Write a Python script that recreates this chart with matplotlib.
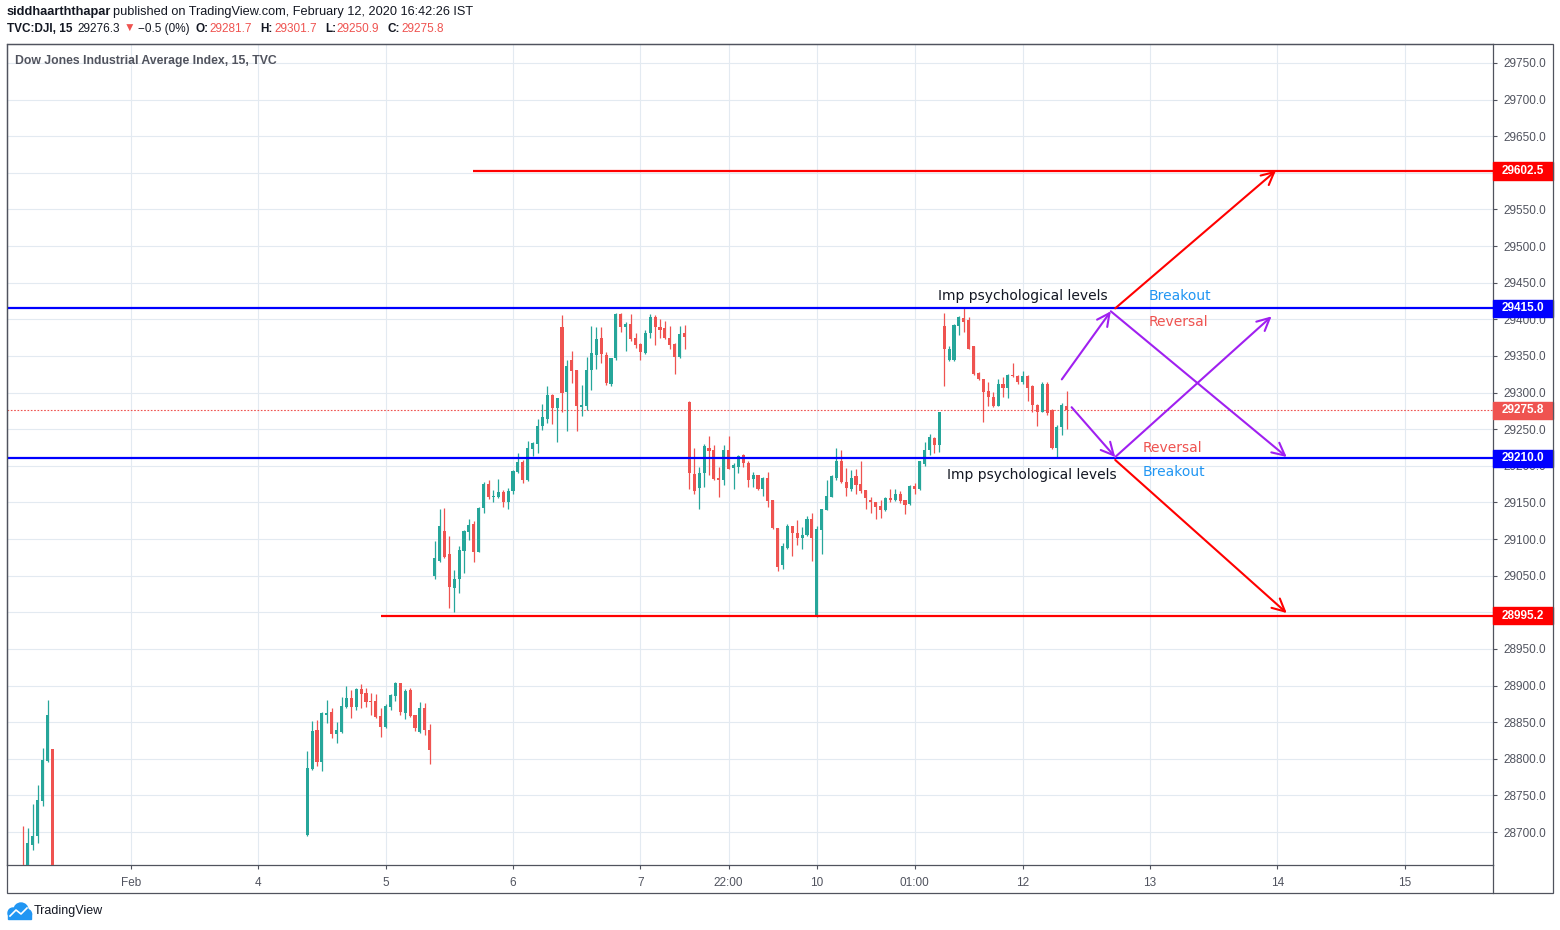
import numpy as np
import matplotlib.pyplot as plt
import matplotlib.transforms as mtransforms
from matplotlib.patches import Rectangle, Circle
from matplotlib.lines import Line2D

plt.rcParams['font.family'] = ['Liberation Sans', 'DejaVu Sans']

# ---- data: DJI 15 min bars (slot = bar index on the time axis) ----
block_start = [0, 58]
block_len = [7, 156]

opens = [
    # Jan 30 close / Jan 31 open
    28650, 28640, 28682, 28694, 28743, 28797, 28813,
    # Feb 4
    28696, 28786, 28839, 28796, 28860, 28864, 28834, 28837, 28871, 28883, 28871, 28895, 28890,
    28879, 28879, 28858, 28843, 28871, 28886, 28903, 28863, 28894, 28860, 28836, 28870, 28839,
    # Feb 5
    29049, 29070, 29111, 29080, 29033, 29046, 29084, 29110, 29121, 29083, 29143, 29175, 29158,
    29157, 29164, 29151, 29166, 29191, 29205, 29181, 29223, 29230, 29254, 29264, 29297, 29279,
    # Feb 6
    29389, 29301, 29345, 29331, 29280, 29282, 29331, 29351, 29374, 29351, 29312, 29347, 29407,
    29389, 29394, 29374, 29366, 29354, 29382, 29403, 29389, 29388, 29374, 29366, 29348, 29382,
    # Feb 7
    29287, 29189, 29170, 29190, 29225, 29222, 29183, 29181, 29222, 29197, 29199, 29215, 29204,
    29182, 29187, 29168, 29184, 29153, 29115, 29064, 29088, 29118, 29108, 29102, 29105, 29128,
    # Feb 10
    28995, 29112, 29140, 29158, 29184, 29207, 29178, 29168, 29186, 29175, 29167, 29154, 29150,
    29145, 29139, 29156, 29153, 29161, 29153, 29148, 29172, 29168, 29202, 29222, 29238, 29228,
    # Feb 11
    29391, 29344, 29344, 29391, 29402, 29399, 29363, 29327, 29318, 29302, 29294, 29282, 29312,
    29306, 29324, 29323, 29314, 29323, 29309, 29283, 29274, 29312, 29276, 29224, 29253, 29281.7,
]
highs = [
    28708, 28705, 28738, 28764, 28815, 28880, 28813,
    28811, 28851, 28853, 28864, 28880, 28870, 28850, 28885, 28900, 28894, 28897, 28902, 28896,
    28890, 28888, 28869, 28875, 28888, 28905, 28904, 28895, 28896, 28860, 28877, 28876, 28848,
    29097, 29141, 29142, 29104, 29058, 29091, 29113, 29127, 29124, 29144, 29178, 29181, 29167,
    29182, 29167, 29170, 29194, 29217, 29208, 29234, 29232, 29264, 29285, 29309, 29298, 29293,
    29406, 29345, 29357, 29331, 29310, 29349, 29391, 29389, 29389, 29356, 29347, 29408, 29408,
    29397, 29407, 29381, 29368, 29385, 29407, 29406, 29401, 29398, 29391, 29367, 29391, 29392,
    29288, 29225, 29198, 29230, 29241, 29229, 29198, 29228, 29241, 29204, 29215, 29216, 29206,
    29192, 29188, 29185, 29192, 29154, 29115, 29094, 29121, 29118, 29126, 29117, 29131, 29135,
    29118, 29141, 29181, 29187, 29224, 29222, 29197, 29194, 29196, 29207, 29167, 29157, 29151,
    29153, 29158, 29168, 29169, 29165, 29154, 29174, 29177, 29206, 29233, 29243, 29240, 29274,
    29408, 29363, 29393, 29405, 29415, 29403, 29364, 29328, 29319, 29315, 29301, 29318, 29321,
    29325, 29340, 29324, 29329, 29324, 29310, 29284, 29314, 29315, 29277, 29256, 29286, 29301.7,
]
lows = [
    28600, 28620, 28675, 28685, 28736, 28795, 28590,
    28694, 28785, 28790, 28784, 28849, 28828, 28822, 28835, 28870, 28856, 28866, 28870, 28871,
    28860, 28856, 28830, 28842, 28866, 28879, 28860, 28855, 28857, 28838, 28835, 28832, 28793,
    29045, 29069, 29074, 29006, 29001, 29027, 29054, 29099, 29068, 29082, 29135, 29155, 29150,
    29156, 29144, 29141, 29161, 29190, 29177, 29179, 29214, 29218, 29249, 29258, 29257, 29232,
    29274, 29247, 29313, 29247, 29268, 29276, 29303, 29332, 29340, 29311, 29309, 29345, 29383,
    29357, 29370, 29361, 29344, 29353, 29374, 29365, 29374, 29373, 29359, 29325, 29347, 29359,
    29168, 29161, 29141, 29171, 29187, 29181, 29158, 29174, 29195, 29168, 29190, 29198, 29171,
    29171, 29167, 29159, 29144, 29114, 29057, 29059, 29087, 29077, 29092, 29087, 29104, 29070,
    28994, 29080, 29139, 29157, 29181, 29177, 29159, 29166, 29162, 29163, 29141, 29136, 29128,
    29129, 29138, 29151, 29152, 29149, 29134, 29147, 29161, 29167, 29200, 29215, 29217, 29219,
    29309, 29343, 29343, 29379, 29383, 29359, 29324, 29317, 29260, 29281, 29280, 29281, 29294,
    29293, 29321, 29312, 29312, 29288, 29274, 29254, 29273, 29269, 29223, 29210, 29242, 29250.9,
]
closes = [
    28610, 28685, 28694, 28744, 28798, 28860, 28600,
    28787, 28838, 28796, 28863, 28863, 28834, 28839, 28872, 28883, 28871, 28895, 28889, 28878,
    28877, 28857, 28844, 28872, 28887, 28903, 28864, 28893, 28858, 28842, 28870, 28839, 28812,
    29074, 29118, 29075, 29034, 29046, 29085, 29111, 29119, 29083, 29143, 29175, 29158, 29159,
    29164, 29151, 29166, 29193, 29205, 29181, 29224, 29231, 29254, 29266, 29297, 29279, 29292,
    29300, 29336, 29330, 29281, 29283, 29331, 29354, 29373, 29353, 29313, 29347, 29407, 29390,
    29394, 29373, 29365, 29356, 29382, 29403, 29389, 29385, 29375, 29365, 29348, 29380, 29376,
    29190, 29165, 29190, 29227, 29220, 29182, 29181, 29222, 29196, 29201, 29213, 29204, 29180,
    29187, 29168, 29184, 29152, 29115, 29062, 29090, 29118, 29108, 29102, 29106, 29127, 29101,
    29114, 29141, 29159, 29186, 29206, 29178, 29170, 29184, 29174, 29165, 29156, 29150, 29144,
    29139, 29156, 29153, 29161, 29152, 29146, 29172, 29168, 29206, 29222, 29240, 29229, 29273,
    29360, 29360, 29392, 29403, 29397, 29360, 29325, 29318, 29301, 29294, 29282, 29312, 29306,
    29324, 29322, 29314, 29323, 29306, 29283, 29274, 29312, 29272, 29224, 29253, 29283, 29275.8,
]

tick_slots = [22, 48, 74, 100, 126, 144, 162, 182, 204, 230, 256, 282]
tick_labels = ['Feb', '4', '5', '6', '7', '22:00', '10', '01:00', '12', '13', '14', '15']
price_ticks = [p for p in range(28700, 29751, 50) if p != 29600]  # 29600 sits under the label box

# drawn horizontal levels
level_prices = [29602.5, 29415.0, 29210.0, 28995.2]
level_start = [91.8, -3.3, -3.3, 73.1]
level_colors = ['#ff0000', '#0000ff', '#0000ff', '#ff0000']
last_price = 29275.8

# drawn arrows (slot, price)
red_arrows = [((222.9, 29415.0), (255.7, 29603.0)),
              ((222.9, 29208.0), (257.9, 28999.0))]
purple_arrows = [((212.0, 29318.0), (222.0, 29411.0)),
                 ((222.0, 29411.0), (257.9, 29212.0)),
                 ((214.0, 29280.0), (222.9, 29212.0)),
                 ((222.9, 29212.0), (254.8, 29404.0))]

# ---- figure ----
W, H = 1560, 930
fig = plt.figure(figsize=(W / 100, H / 100), dpi=100)
ax = fig.add_axes([7 / W, 1 - 865 / H, (1493 - 7) / W, (865 - 44) / H])
pix = mtransforms.Affine2D().scale(1 / W, -1 / H).translate(0, 1) + fig.transFigure

GREEN, RED = '#26a69a', '#ef5350'
AXC = '#50535e'

slots = np.concatenate([np.arange(s, s + n) for s, n in zip(block_start, block_len)])
o = np.array(opens); h = np.array(highs); l = np.array(lows); c = np.array(closes)
cols = np.where(c >= o, GREEN, RED)
ax.vlines(slots, l, h, colors=cols, lw=0.9, zorder=3)
ax.bar(slots, np.maximum(np.abs(c - o), 1.3), bottom=np.minimum(o, c), width=0.62,
       color=cols, linewidth=0, zorder=3)

for p, s, col in zip(level_prices, level_start, level_colors):
    ax.hlines(p, s, 301, color=col, lw=1.6, zorder=4)
ax.axhline(last_price, color=RED, ls=(0, (1.5, 1.5)), lw=0.8, zorder=2)

for (x0, y0), (x1, y1) in red_arrows:
    ax.annotate('', xy=(x1, y1), xytext=(x0, y0),
                arrowprops=dict(arrowstyle='->,head_length=0.9,head_width=0.45',
                                color='#ff0000', lw=1.5, shrinkA=0, shrinkB=0), zorder=5)
for (x0, y0), (x1, y1) in purple_arrows:
    ax.annotate('', xy=(x1, y1), xytext=(x0, y0),
                arrowprops=dict(arrowstyle='->,head_length=0.9,head_width=0.45',
                                color='#a020f0', lw=1.5, shrinkA=0, shrinkB=0), zorder=5)

tfont = dict(family='DejaVu Sans', fontsize=10, va='center', ha='left')
ax.text(186.8, 29432, 'Imp psychological levels', color='#131722', **tfont)
ax.text(229.7, 29432, 'Breakout', color='#2196f3', **tfont)
ax.text(229.7, 29397, 'Reversal', color=RED, **tfont)
ax.text(228.5, 29225, 'Reversal', color=RED, **tfont)
ax.text(228.5, 29192, 'Breakout', color='#2196f3', **tfont)
ax.text(188.5, 29188, 'Imp psychological levels', color='#131722', **tfont)

ax.set_xlim(-3.27, 300.0)
ax.set_ylim(28655.0, 29775.9)
ax.set_xticks(tick_slots)
ax.set_xticklabels(tick_labels)
ax.set_yticks(price_ticks)
ax.yaxis.set_major_formatter(plt.FuncFormatter(lambda v, _: f'{v:.1f}'))
ax.yaxis.tick_right()
ax.tick_params(axis='y', length=3, width=0.8, color=AXC, labelcolor=AXC, labelsize=8.5, pad=4.5)
ax.tick_params(axis='x', length=3, width=0.8, color=AXC, labelcolor=AXC, labelsize=8.5, pad=6)
ax.grid(True, color='#e3eaf1', lw=0.8)
ax.axhline(29600, color='#e3eaf1', lw=0.8, zorder=0)
ax.set_axisbelow(True)
for sp in ax.spines.values():
    sp.set_color(AXC)
    sp.set_linewidth(0.9)

# price labels on the axis
blend = mtransforms.blended_transform_factory(ax.transAxes, ax.transData)
box_w = (1553 - 1493) / (1493 - 7)
for p, col in [(29602.5, '#ff0000'), (29415.0, '#0000ff'), (last_price, RED),
               (29210.0, '#0000ff'), (28995.2, '#ff0000')]:
    ax.add_patch(Rectangle((1.0, p - 11.8), box_w, 23.6, transform=blend, color=col,
                           clip_on=False, zorder=6))
    ax.text(1.0 + box_w / 2, p, f'{p:.1f}', transform=blend, color='white', fontsize=8.5,
            fontweight='bold', ha='center', va='center', clip_on=False, zorder=7)

# outer frame
fig.patches.append(Rectangle((7, 44), 1546, 849, transform=pix, fill=False,
                             edgecolor=AXC, lw=0.9))
fig.lines.append(Line2D([1493, 1493], [865, 893], transform=pix, color=AXC, lw=0.9))

# header
fig.text(7, 12, 'siddhaarththapar', color='#131722', fontweight='bold', transform=pix,
         fontsize=9.2, va='center', ha='left')
fig.text(113, 12, 'published on TradingView.com, February 12, 2020 16:42:26 IST', color='#131722',
         transform=pix, fontsize=9.2, va='center', ha='left')
row2 = [('TVC:DJI, 15', 7, '#131722', 'bold'), ('29276.3', 77, '#131722', 'normal'),
        ('▼', 124, RED, 'normal'), ('\u22120.5 (0%)', 138, '#131722', 'normal'),
        ('O:', 195, '#131722', 'bold'), ('29281.7', 209, RED, 'normal'),
        ('H:', 260, '#131722', 'bold'), ('29301.7', 274, RED, 'normal'),
        ('L:', 325, '#131722', 'bold'), ('29250.9', 336, RED, 'normal'),
        ('C:', 387, '#131722', 'bold'), ('29275.8', 401, RED, 'normal')]
for txt, x, col, wt in row2:
    fig.text(x, 29, txt, color=col, fontweight=wt, transform=pix, fontsize=8.5,
             va='center', ha='left')
fig.text(15, 61, 'Dow Jones Industrial Average Index, 15, TVC', color=AXC,
         fontweight='bold', transform=pix, fontsize=8.8, va='center', ha='left')

# TradingView logo
logo_blue = '#2196f3'
for cx, cy, r in [(13, 913, 5), (21, 910, 7), (27, 914, 4.5)]:
    fig.patches.append(Circle((cx, cy), r, transform=pix, color=logo_blue))
fig.patches.append(Rectangle((8, 913), 23, 5.5, transform=pix, color=logo_blue))
fig.lines.append(Line2D([10, 16, 21, 27], [916, 910, 914, 908], transform=pix,
                        color='white', lw=1.2))
fig.text(34, 911, 'TradingView', transform=pix, fontsize=9, va='center', ha='left',
         color='#131722')

fig.savefig('out.png', dpi=100)
